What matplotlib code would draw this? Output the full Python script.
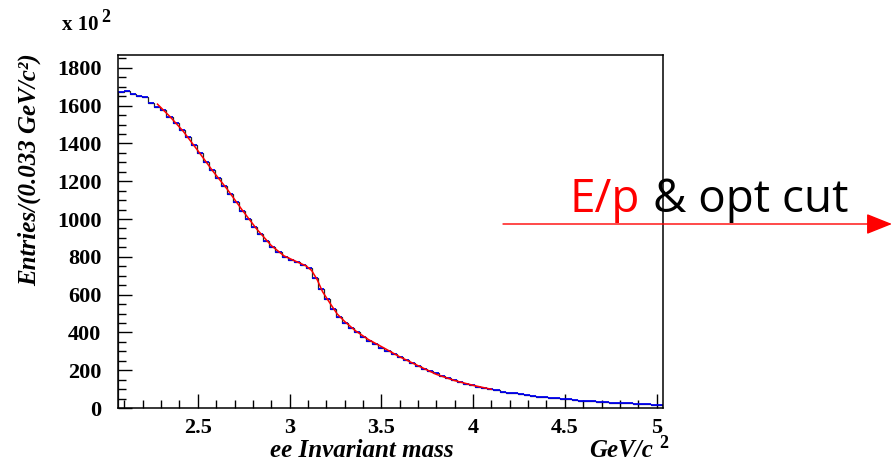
import numpy as np
import matplotlib
matplotlib.use('Agg')
import matplotlib.pyplot as plt
from matplotlib.ticker import MultipleLocator

# histogram: 90 bins of 0.033 GeV/c^2 starting at 2.065 (units of 100 entries)
bin_start = 2.065
bin_width = 0.033
counts = [1672, 1680, 1661, 1653, 1647, 1615, 1595, 1575, 1542, 1507,
          1470, 1432, 1393, 1352, 1302, 1258, 1215, 1176, 1135, 1090,
          1043, 1000, 958, 920, 882, 850, 823, 800, 782, 770,
          757, 740, 690, 630, 575, 525, 480, 452, 424, 400,
          378, 357, 337, 320, 303, 287, 271, 256, 240, 222,
          209, 196, 184, 168, 158, 146, 137, 128, 120, 113,
          106, 99, 93, 87, 82, 77, 72, 68, 64, 60,
          57, 54, 51, 48, 45, 42, 39, 37, 35, 33,
          31, 29, 27, 25, 24, 22, 21, 20, 18, 17]

# fitted curve (red)
fit_x = [2.28, 2.35, 2.42, 2.50, 2.58, 2.66, 2.74, 2.82, 2.90, 2.97,
         3.03, 3.09, 3.12, 3.15, 3.18, 3.22, 3.26, 3.30, 3.36, 3.43,
         3.51, 3.60, 3.70, 3.80, 3.90, 4.00, 4.10]
fit_y = [1608, 1540, 1465, 1362, 1256, 1158, 1050, 948, 860, 805,
         778, 752, 728, 680, 615, 555, 497, 458, 408, 362,
         320, 271, 224, 178, 145, 120, 99]

edges = bin_start + bin_width * np.arange(len(counts) + 1)

plt.rcParams['font.family'] = 'Liberation Serif'

fig = plt.figure(figsize=(8.92, 4.63), dpi=100)
ax = fig.add_axes([118/892, 1-408/463, (663-118)/892, (408-55)/463])

# black outline histogram then blue horizontal bin tops
ax.stairs(counts, edges, color='black', lw=0.9, alpha=0.85)
ax.hlines(counts, edges[:-1], edges[1:], color='#0000ee', lw=1.3)
ax.plot(fit_x, fit_y, color='red', lw=1.1)

ax.set_xlim(edges[0], edges[-1])
ax.set_ylim(0, 1868)

ax.xaxis.set_major_locator(MultipleLocator(0.5))
ax.xaxis.set_minor_locator(MultipleLocator(0.1))
ax.yaxis.set_major_locator(MultipleLocator(200))
ax.yaxis.set_minor_locator(MultipleLocator(50))
ax.tick_params(which='both', direction='in', top=False, right=False)
ax.tick_params(which='major', length=10, width=1)
ax.tick_params(which='minor', length=6, width=1)
ax.xaxis.set_major_formatter(plt.FuncFormatter(lambda v, p: '%g' % v))
ax.tick_params(axis='x', pad=7)
ax.tick_params(axis='y', pad=12)
for lab in ax.get_xticklabels() + ax.get_yticklabels():
    lab.set_fontweight('bold')
    lab.set_fontsize(16)
for s in ax.spines.values():
    s.set_linewidth(1.1)

# axis titles (ROOT style)
fig.text(29/892, 1-286/463, 'Entries/(0.033 GeV/c²)', rotation=90,
         ha='center', va='bottom', fontsize=18, style='italic', fontweight='bold')
fig.text(454/892, 1-457/463, 'ee Invariant mass', ha='right', va='baseline',
         fontsize=18, style='italic', fontweight='bold')
fig.text(589/892, 1-457/463, 'GeV/c', ha='left', va='baseline',
         fontsize=18, style='italic', fontweight='bold')
fig.text(659/892, 1-444/463, '2', ha='left', va='center',
         fontsize=13, fontweight='bold')
fig.text(62/892, 1-25/463, 'x 10', ha='left', va='center',
         fontsize=15, fontweight='bold')
fig.text(101/892, 1-17/463, '2', ha='left', va='center',
         fontsize=13, fontweight='bold')

# annotation arrow and label
fig.patches.append(matplotlib.patches.FancyArrowPatch(
    (503/892, 1-224/463), (892/892, 1-224/463), transform=fig.transFigure,
    arrowstyle='-|>,head_length=1.15,head_width=0.46', mutation_scale=14,
    shrinkA=0, shrinkB=0, color='red', lw=1.0))
fig.text(570/892, 1-212/463, 'E/p', ha='left', va='baseline',
         fontsize=33, color='red', family='Open Sans')
fig.text(653/892, 1-212/463, '& opt cut', ha='left', va='baseline',
         fontsize=33, color='black', family='Open Sans')

fig.savefig('out.png', dpi=100)
